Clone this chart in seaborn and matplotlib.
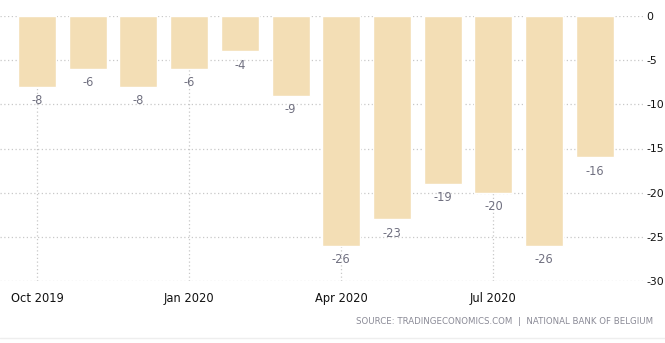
import matplotlib
matplotlib.use("Agg")
import matplotlib.pyplot as plt
import seaborn as sns
import pandas as pd

# Belgian consumer confidence, monthly
months = ["Oct 2019", "Nov 2019", "Dec 2019", "Jan 2020", "Feb 2020", "Mar 2020",
          "Apr 2020", "May 2020", "Jun 2020", "Jul 2020", "Aug 2020", "Sep 2020"]
values = [-8, -6, -8, -6, -4, -9, -26, -23, -19, -20, -26, -16]
tick_positions = [0, 3, 6, 9]
tick_labels = ["Oct 2019", "Jan 2020", "Apr 2020", "Jul 2020"]
y_ticks = [0, -5, -10, -15, -20, -25, -30]

df = pd.DataFrame({"month": months, "value": values})

sns.set_style("white")
plt.rcParams["font.family"] = ["DejaVu Sans"]

fig = plt.figure(figsize=(6.65, 3.43), dpi=100)
ax = fig.add_axes([0.0, 1 - 281 / 343, 643 / 665, (281 - 16) / 343])

sns.barplot(data=df, x="month", y="value", order=months, color="#F3DEB5",
            saturation=1, width=0.75, ax=ax, zorder=2)

ax.set_ylim(-30, 0)
ax.set_xlim(-0.73, 11.95)
ax.set_yticks(y_ticks)
ax.set_yticklabels([str(v) for v in y_ticks])
ax.yaxis.tick_right()
ax.set_xticks(tick_positions)
ax.set_xticklabels(tick_labels)
ax.set_xlabel("")
ax.set_ylabel("")

grid_kw = dict(color="#c8c8c8", linestyle=(0, (1, 2)), linewidth=0.9)
ax.yaxis.grid(True, **grid_kw)
ax.xaxis.grid(True, **grid_kw)
ax.set_axisbelow(True)
for s in ax.spines.values():
    s.set_visible(False)

ax.tick_params(axis="y", length=0, pad=2.5, labelsize=7.8, labelcolor="#111111")
ax.tick_params(axis="x", length=4, width=0.9, color="#c8c8c8", pad=4,
               labelsize=8.3, labelcolor="#111111")

for i, v in enumerate(values):
    ax.annotate(str(v), xy=(i, v), xytext=(0, -14), textcoords="offset pixels",
                ha="center", va="center", fontsize=8.3, color="#707080")

fig.text(653 / 665, 1 - 322 / 343,
         "SOURCE: TRADINGECONOMICS.COM  |  NATIONAL BANK OF BELGIUM",
         ha="right", va="center", fontsize=6.2, color="#8a8a96")
fig.add_artist(plt.Line2D([0, 1], [1 - 337.5 / 343] * 2, color="#eeeeee",
                          linewidth=1, transform=fig.transFigure))

fig.savefig("out.png", dpi=100)
